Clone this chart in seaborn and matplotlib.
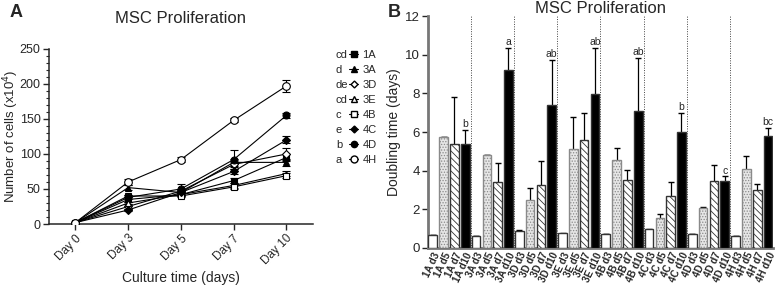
import numpy as np
import pandas as pd
import matplotlib
matplotlib.use('Agg')
import matplotlib.pyplot as plt
from matplotlib.lines import Line2D
from matplotlib.ticker import MultipleLocator
import seaborn as sns

# ---- panel A: cell counts (x10^4) ----
days = ['Day 0', 'Day 3', 'Day 5', 'Day 7', 'Day 10']
groups = ['1A', '3A', '3D', '3E', '4B', '4C', '4D', '4H']
group_letters = ['cd', 'd', 'de', 'cd', 'c', 'e', 'b', 'a']

count_1A = [2, 35, 42, 62, 95]
count_3A = [2, 52, 45, 88, 88]
count_3D = [2, 25, 47, 85, 100]
count_3E = [2, 30, 42, 55, 72]
count_4B = [2, 40, 40, 53, 69]
count_4C = [2, 20, 45, 75, 120]
count_4D = [2, 38, 50, 92, 155]
count_4H = [2, 60, 92, 148, 197]

err_1A = [1, 3, 2, 4, 5]
err_3A = [1, 3, 3, 5, 5]
err_3D = [1, 3, 3, 4, 9]
err_3E = [1, 2, 2, 3, 4]
err_4B = [1, 2, 2, 3, 4]
err_4C = [1, 2, 3, 3, 5]
err_4D = [1, 3, 7, 13, 4]
err_4H = [1, 4, 3, 3, 8]

# ---- panel B: doubling time (days) ----
periods = ['d3', 'd5', 'd7', 'd10']
dt_1A = [0.65, 5.75, 5.4, 5.38]
dt_3A = [0.62, 4.8, 3.4, 9.2]
dt_3D = [0.88, 2.5, 3.25, 7.4]
dt_3E = [0.75, 5.1, 5.6, 7.95]
dt_4B = [0.72, 4.57, 3.53, 7.1]
dt_4C = [0.97, 1.53, 2.7, 5.98]
dt_4D = [0.72, 2.07, 3.48, 3.48]
dt_4H = [0.6, 4.08, 3.02, 5.78]

dterr_1A = [0.0, 0.0, 2.4, 0.72]
dterr_3A = [0.0, 0.0, 1.0, 1.15]
dterr_3D = [0.07, 0.6, 1.25, 2.35]
dterr_3E = [0.03, 1.7, 1.4, 2.4]
dterr_4B = [0.0, 0.6, 0.52, 2.73]
dterr_4C = [0.03, 0.23, 0.71, 1.0]
dterr_4D = [0.0, 0.03, 0.83, 0.22]
dterr_4H = [0.0, 0.7, 0.31, 0.42]

d10_letters = ['b', 'a', 'ab', 'ab', 'ab', 'b', 'c', 'bc']

counts = [count_1A, count_3A, count_3D, count_3E, count_4B, count_4C, count_4D, count_4H]
errs = [err_1A, err_3A, err_3D, err_3E, err_4B, err_4C, err_4D, err_4H]
dts = [dt_1A, dt_3A, dt_3D, dt_3E, dt_4B, dt_4C, dt_4D, dt_4H]
dterrs = [dterr_1A, dterr_3A, dterr_3D, dterr_3E, dterr_4B, dterr_4C, dterr_4D, dterr_4H]

rows = []
for g, c, e in zip(groups, counts, errs):
    for d, v, s in zip(days, c, e):
        rows.append({'group': g, 'day': d, 'cells': v, 'err': s})
df_a = pd.DataFrame(rows)

rows = []
for g, vals, es in zip(groups, dts, dterrs):
    for p, v, s in zip(periods, vals, es):
        rows.append({'label': g + ' ' + p, 'period': p, 'dt': v, 'err': s})
df_b = pd.DataFrame(rows)

sns.set_style('ticks')
plt.rcParams['font.family'] = ['Liberation Sans', 'DejaVu Sans']
plt.rcParams['hatch.linewidth'] = 0.6

fig = plt.figure(figsize=(7.78, 2.87), dpi=100)
ax1 = fig.add_axes([0.063, 0.2195, 0.339, 0.61])
ax2 = fig.add_axes([0.550, 0.136, 0.4434, 0.808])

# ---- panel A ----
markers = {'1A': 's', '3A': '^', '3D': 'D', '3E': '^', '4B': 's', '4C': 'D', '4D': 'o', '4H': 'o'}
filled = {'1A': True, '3A': True, '3D': False, '3E': False, '4B': False, '4C': True, '4D': True, '4H': False}
msize = {'1A': 5, '3A': 5, '3D': 4, '3E': 5, '4B': 5, '4C': 4, '4D': 5, '4H': 5.5}
xpos = {d: i for i, d in enumerate(days)}

for g in groups:
    sub = df_a[df_a['group'] == g].copy()
    sub['x'] = sub['day'].map(xpos)
    ax1.errorbar(sub['x'], sub['cells'], yerr=sub['err'], fmt='none', ecolor='black',
                 elinewidth=0.8, capsize=3, capthick=0.8, zorder=2)
    sns.lineplot(data=sub, x='x', y='cells', ax=ax1, color='black', linewidth=0.8,
                 marker=markers[g], markersize=msize[g],
                 markerfacecolor='black' if filled[g] else 'white',
                 markeredgecolor='black', markeredgewidth=0.8, zorder=3)

ax1.set_xlim(-0.5, 4.5)
ax1.set_ylim(0, 250)
ax1.set_xticks(range(len(days)))
ax1.set_xticklabels(days, rotation=45, ha='right', rotation_mode='anchor', fontsize=8.5)
ax1.yaxis.set_major_locator(MultipleLocator(50))
ax1.yaxis.set_minor_locator(MultipleLocator(10))
ax1.tick_params(axis='y', labelsize=9, width=1, length=4, pad=2)
ax1.tick_params(axis='y', which='minor', length=2, width=0.8)
ax1.tick_params(axis='x', width=1, length=4, pad=2)
ax1.set_xlabel('Culture time (days)', fontsize=10, labelpad=3)
ax1.set_ylabel('Number of cells (x10$^4$)', fontsize=9.5)
ax1.yaxis.set_label_coords(-0.108, 0.5)
for s in ['left', 'bottom']:
    ax1.spines[s].set_linewidth(1.1)
sns.despine(ax=ax1)
ax1.set_title('MSC Proliferation', fontsize=12, pad=19)

handles = [Line2D([], [], color='black', linewidth=0.8, marker=markers[g], markersize=msize[g] - 0.5,
                  markerfacecolor='black' if filled[g] else 'white', markeredgecolor='black')
           for g in groups]
fig.legend(handles, groups, loc='upper left', bbox_to_anchor=(0.443, 0.842), frameon=False,
           fontsize=8, handlelength=0.8, handletextpad=0.4, labelspacing=0.45, borderaxespad=0)
blank = [Line2D([], [], linestyle='none') for g in groups]
fig.legend(blank, group_letters, loc='upper left', bbox_to_anchor=(0.426, 0.842), frameon=False,
           fontsize=8, handlelength=0, handletextpad=0, labelspacing=0.45, borderaxespad=0)

# ---- panel B ----
period_colors = {'d3': 'white', 'd5': '#e6e6e6', 'd7': 'white', 'd10': 'black'}
sns.barplot(data=df_b, x='label', y='dt', hue='period', hue_order=periods, dodge=False,
            palette=period_colors, edgecolor='#333333', linewidth=1.0, width=0.8,
            errorbar=None, legend=False, ax=ax2, zorder=3)
hatches = {'d3': '', 'd5': '......', 'd7': '\\\\\\\\\\', 'd10': ''}
for cont, p in zip(ax2.containers, periods):
    for bar in cont:
        if bar.get_height() > 0:
            bar.set_hatch(hatches[p])
            if p == 'd5':
                bar.set_edgecolor('#8a8a8a')

xb = np.arange(len(df_b))
# symmetric bars drawn under the columns so only the upper half shows
ax2.errorbar(xb, df_b['dt'], yerr=df_b['err'], fmt='none', ecolor='black',
             elinewidth=0.9, capsize=2.5, capthick=1.0, zorder=2)
for i, g in enumerate(groups):
    j = i * 4 + 3
    top = df_b['dt'][j] + df_b['err'][j]
    ax2.text(j, top + 0.05, d10_letters[i], ha='center', va='bottom', fontsize=7.5)
for i in range(1, len(groups)):
    ax2.axvline(i * 4 - 0.5, color='#444444', linestyle=(0, (1, 1.5)), linewidth=0.7, zorder=1)

ax2.set_xlim(-0.45, len(df_b) - 0.55)
ax2.set_ylim(0, 12)
ax2.yaxis.set_major_locator(MultipleLocator(2))
ax2.tick_params(axis='y', labelsize=9.5, width=1, length=4, pad=2)
ax2.tick_params(axis='x', length=0, pad=2)
ax2.set_xticks(xb)
ax2.set_xticklabels(df_b['label'], rotation=65, ha='right', rotation_mode='anchor',
                    fontsize=7, fontweight='bold')
ax2.set_xlabel('')
ax2.set_ylabel('Doubling time (days)', fontsize=10, labelpad=3)
sns.despine(ax=ax2)
for s in ['left', 'bottom']:
    ax2.spines[s].set_linewidth(2)
    ax2.spines[s].set_color('#777777')
ax2.set_title('MSC Proliferation', fontsize=12, pad=-7)

fig.text(0.012, 0.958, 'A', fontsize=13, fontweight='bold', va='center')
fig.text(0.498, 0.958, 'B', fontsize=13, fontweight='bold', va='center')

fig.savefig('out.png', dpi=100)
